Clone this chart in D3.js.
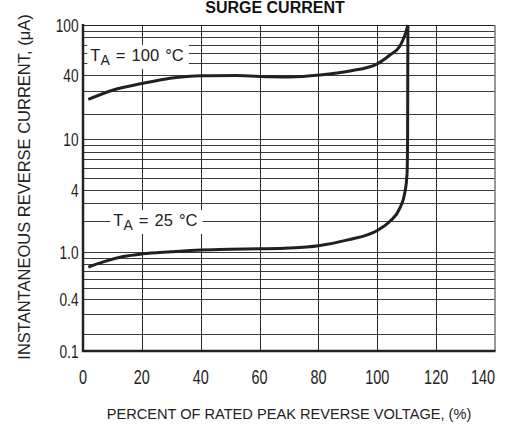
<!DOCTYPE html>
<html><head><meta charset="utf-8">
<script src="https://cdn.jsdelivr.net/npm/d3@7"></script>
<style>html,body{margin:0;padding:0;background:#fff;} svg{display:block}</style>
</head><body>
<svg id="c" width="505" height="425"></svg>
<script>
// ---- data ----
const chartTitle = "SURGE CURRENT";
const xTitle = "PERCENT OF RATED PEAK REVERSE VOLTAGE, (%)";
const yTitle = "INSTANTANEOUS REVERSE CURRENT, (\u03bcA)";
const xTicks = [0, 20, 40, 60, 80, 100, 120, 140];
const yTickValues = [0.1, 0.4, 1, 4, 10, 40, 100];
const yTickLabels = ["0.1", "0.4", "1.0", "4", "10", "40", "100"];
const decades = [0.1, 1, 10];
const gridMultipliers = [1, 2, 3, 4, 5, 6, 7, 8, 9];

// T_A = 25 °C
const pct25 = [1.8, 6.9, 13.7, 20.2, 30, 40, 50, 60, 70, 80, 90, 100, 104.3, 107.7, 109.4, 110.1, 110.3, 110.4];
const cur25 = [0.75, 0.83, 0.92, 0.97, 1.01, 1.05, 1.07, 1.08, 1.1, 1.16, 1.32, 1.63, 2.0, 2.7, 3.85, 5.3, 10, 100];
// T_A = 100 °C
const pct100 = [1.8, 10.3, 20.5, 29.6, 40.3, 52, 63.5, 70.3, 80.5, 90.7, 99.8, 104.3, 107.7, 109.4, 110.4];
const cur100 = [25.9, 30.7, 34.6, 37.9, 39.7, 39.8, 39.0, 38.8, 40.2, 43.3, 49.1, 57.9, 68.3, 83.4, 100];

const labels = [
  {main: "T", sub: "A", rest: " = 100 \u00b0C", pct: 2.5, cur: 52},
  {main: "T", sub: "A", rest: " = 25 \u00b0C", pct: 10.3, cur: 1.8}
];

// ---- layout ----
const L = 83, R = 495, T = 25, B = 351;
const svg = d3.select("#c");
const font = "'Liberation Sans', Arial, Helvetica, sans-serif";

const x = d3.scaleLinear().domain([0, 140]).range([L, R]);
// printed log paper is unevenly spaced between decades; map decade/labelled ticks piecewise
const y = d3.scaleLog()
  .domain([0.1, 0.2, 0.4, 1, 4, 10, 20, 40, 100])
  .range([B, 334.3, 299.3, 252.3, 190.3, 139.3, 113.7, 75.3, T]);

// horizontal grid
const hGrid = [];
decades.forEach(d => gridMultipliers.forEach(m => hGrid.push(d * m)));
svg.append("g").selectAll("line").data(hGrid.filter(v => v > 0.1)).join("line")
  .attr("x1", L).attr("x2", R)
  .attr("y1", d => Math.round(y(d)) + 0.5).attr("y2", d => Math.round(y(d)) + 0.5)
  .attr("stroke", "#3a3a3a").attr("stroke-width", 1);

// vertical grid
svg.append("g").selectAll("line").data(xTicks.filter(v => v > 0 && v < 140)).join("line")
  .attr("x1", d => Math.round(x(d)) + 0.5).attr("x2", d => Math.round(x(d)) + 0.5)
  .attr("y1", T).attr("y2", B)
  .attr("stroke", "#2a2a2a").attr("stroke-width", 1);

// top line
svg.append("line").attr("x1", L).attr("x2", R).attr("y1", T + 0.5).attr("y2", T + 0.5)
  .attr("stroke", "#222").attr("stroke-width", 1);
// right border
svg.append("line").attr("x1", R).attr("x2", R).attr("y1", T).attr("y2", B)
  .attr("stroke", "#777").attr("stroke-width", 1.5);

// label boxes
const lab = svg.append("g");
labels.forEach(l => {
  const g = lab.append("g");
  const t = g.append("text")
    .attr("x", x(l.pct)).attr("y", y(l.cur))
    .attr("font-family", font).attr("font-size", 16.5).attr("fill", "#222")
    .attr("word-spacing", 1.5);
  t.append("tspan").text(l.main);
  t.append("tspan").attr("font-size", 14).attr("dy", 4).text(l.sub);
  t.append("tspan").attr("dy", -4).text(l.rest);
  const bb = t.node().getBBox();
  g.insert("rect", "text")
    .attr("x", bb.x - 3).attr("y", bb.y - 1).attr("width", bb.width + 8).attr("height", bb.height + 2)
    .attr("fill", "#fff");
});

// axes lines
svg.append("line").attr("x1", L).attr("x2", L).attr("y1", T - 1).attr("y2", B + 1)
  .attr("stroke", "#222").attr("stroke-width", 2.5);
svg.append("line").attr("x1", L - 1).attr("x2", R + 0.5).attr("y1", B).attr("y2", B)
  .attr("stroke", "#222").attr("stroke-width", 2.5);

// curves
const line = d3.line().x(d => x(d[0])).y(d => y(d[1])).curve(d3.curveMonotoneX);
[[pct25, cur25], [pct100, cur100]].forEach(([px, cy]) => {
  svg.append("path")
    .attr("d", line(px.map((p, i) => [p, cy[i]])))
    .attr("fill", "none").attr("stroke", "#231f20").attr("stroke-width", 3)
    .attr("stroke-linecap", "butt");
});

// tick labels (condensed figures)
const sx = 0.74;
svg.append("g").selectAll("text").data(xTicks).join("text")
  .attr("transform", (d, i) => `translate(${x(d)},383.5) scale(${sx},1)`)
  .attr("text-anchor", (d, i) => i === xTicks.length - 1 ? "end" : "middle")
  .attr("font-family", font).attr("font-size", 19.5).attr("fill", "#222")
  .text(d => d);
svg.append("g").selectAll("text").data(yTickValues).join("text")
  .attr("transform", d => `translate(78.5,${y(d) + 6.5}) scale(${sx},1)`)
  .attr("text-anchor", "end")
  .attr("font-family", font).attr("font-size", 18.5).attr("fill", "#222")
  .text((d, i) => yTickLabels[i]);

// titles
svg.append("text").attr("x", 275).attr("y", 13).attr("text-anchor", "middle")
  .attr("font-family", font).attr("font-weight", "bold").attr("font-size", 16).attr("fill", "#111")
  .text(chartTitle);
svg.append("text").attr("x", (L + R) / 2).attr("y", 419).attr("text-anchor", "middle")
  .attr("font-family", font).attr("font-size", 14.6).attr("fill", "#222")
  .text(xTitle);
svg.append("text").attr("transform", "translate(30,187) rotate(-90)").attr("text-anchor", "middle")
  .attr("font-family", font).attr("font-size", 16.5).attr("fill", "#222")
  .text(yTitle);
</script>
</body></html>
